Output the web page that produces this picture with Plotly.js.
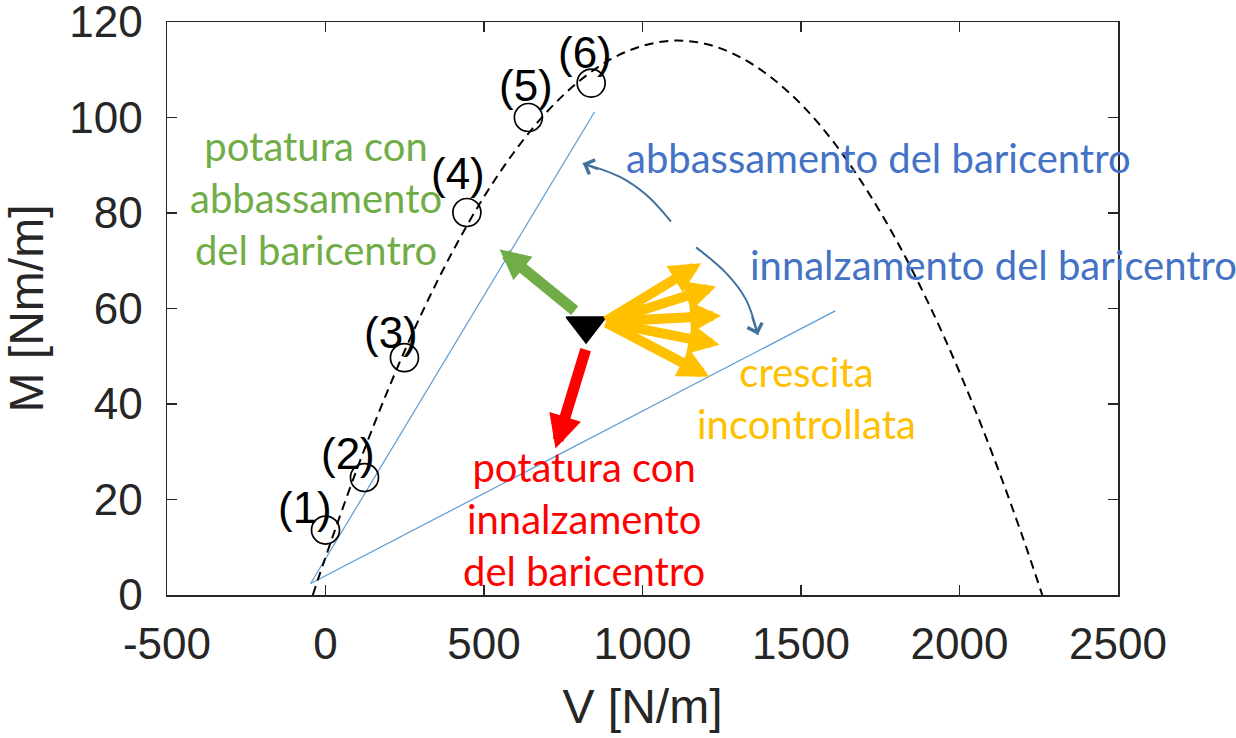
<!DOCTYPE html>
<html><head><meta charset="utf-8">
<script src="https://cdn.plot.ly/plotly-3.0.1.min.js"></script>
<style>html,body{margin:0;padding:0;background:#fff;}#chart{width:1236px;height:738px;}</style>
</head><body><div id="chart"></div>
<script>
// Measured states (1)-(6)
const stateLabels = ['(1)', '(2)', '(3)', '(4)', '(5)', '(6)'];
const stateV = [0, 123, 249, 446, 640, 838];
const stateM = [13.6, 24.6, 49.7, 80.1, 100.0, 107.2];

// Limit curve (dashed)
const limitV = [-40, 0, 100, 200, 300, 400, 500, 600, 700, 800, 900, 1000, 1100, 1200, 1300, 1400, 1500, 1600, 1700, 1800, 1900, 2000, 2100, 2200, 2261];
const limitM = [0, 7.9, 26.5, 43.4, 58.5, 71.8, 83.4, 93.2, 101.3, 107.6, 112.2, 115.0, 116.1, 115.4, 112.9, 108.7, 102.8, 95.1, 85.6, 74.4, 61.4, 46.7, 30.2, 12.0, 0];

// Thin reference lines from the origin
const steepLineV = [-47, 849];
const steepLineM = [2.4, 101.2];
const flatLineV = [-47, 1608];
const flatLineM = [2.4, 59.5];

// Current state (black triangle)
const currentV = [822];
const currentM = [56.4];

// Arrows (tail -> tip)
const greenTail = [791, 59.3];
const greenTip = [549, 72.4];
const redTail = [822, 51.7];
const redTip = [725.6, 30.7];
const growthTail = [880, 57.2];
const growthTipV = [1185, 1232, 1248, 1243, 1211];
const growthTipM = [69.5, 64.6, 58.5, 52.4, 45.7];

// Curved arrows
const arcUpV = [1090, 1011.7, 927.4, 811.8];
const arcUpM = [78.2, 83.8, 87.6, 90.4];
const arcDownV = [1169, 1264, 1327, 1364];
const arcDownM = [72.8, 67.4, 61.8, 54.5];

// Axis ticks
const xTickVals = [-500, 0, 500, 1000, 1500, 2000, 2500];
const xTickText = ['-500', '0', '500', '1000', '1500', '2000', '2500'];
const yTickVals = [0, 20, 40, 60, 80, 100, 120];
const yTickText = ['0', '20', '40', '60', '80', '100', '120'];

// Texts
const txtGreen = 'potatura con<br>abbassamento<br>del baricentro';
const txtRed = 'potatura con<br>innalzamento<br>del baricentro';
const txtYellow = 'crescita<br>incontrollata';
const txtUp = 'abbassamento del baricentro';
const txtDown = 'innalzamento del baricentro';

const AX = '#262626';
const BLUE_THIN = '#5B9BD5';
const ARC = '#41719C';
const GREEN = '#70AD47';
const RED = '#FF0000';
const YELLOW = '#FFC000';
const TXTBLUE = '#4472C4';
const PFONT = 'Lato, "Open Sans", sans-serif';
const AFONT = '"Liberation Sans", Arial, sans-serif';

const traces = [
  {x: steepLineV, y: steepLineM, mode: 'lines', line: {color: BLUE_THIN, width: 1.2}, hoverinfo: 'skip'},
  {x: flatLineV, y: flatLineM, mode: 'lines', line: {color: BLUE_THIN, width: 1.2}, hoverinfo: 'skip'},
  {x: limitV, y: limitM, mode: 'lines', line: {color: '#000', width: 2, dash: '9px,6px', shape: 'spline'}, hoverinfo: 'skip'},
  {x: stateV, y: stateM, mode: 'markers', marker: {symbol: 'circle-open', size: 28, color: '#000', line: {width: 1.7, color: '#000'}}},
  {x: arcUpV, y: arcUpM, mode: 'lines', line: {color: ARC, width: 2, shape: 'spline'}, hoverinfo: 'skip'},
  {x: arcDownV, y: arcDownM, mode: 'lines', line: {color: ARC, width: 2, shape: 'spline'}, hoverinfo: 'skip'},
  {x: currentV, y: currentM, mode: 'markers', marker: {symbol: 'triangle-down', size: 34, color: '#000', line: {width: 2, color: '#000'}}}
];

function arrow(tip, tail, color, width, size, head) {
  return {x: tip[0], y: tip[1], ax: tail[0], ay: tail[1], xref: 'x', yref: 'y', axref: 'x', ayref: 'y',
          text: '', showarrow: true, arrowhead: head, arrowsize: size, arrowwidth: width, arrowcolor: color, standoff: 0};
}

const annotations = [];
annotations.push(arrow(greenTip, greenTail, GREEN, 11, 0.55, 2));
annotations.push(arrow(redTip, redTail, RED, 11, 0.6, 2));
for (let i = 0; i < growthTipV.length; i++) {
  annotations.push(arrow([growthTipV[i], growthTipM[i]], growthTail, YELLOW, 10, 0.62, 2));
}
// open arrowheads at the ends of the curved arrows
annotations.push(arrow([arcUpV[3], arcUpM[3]], [864, 89], ARC, 2, 1.5, 4));
annotations.push(arrow([arcDownV[3], arcDownM[3]], [1344, 58.6], ARC, 2, 1.5, 4));

// point labels
const labelShift = [[-21, 23], [-16, 24], [-13, 25], [-9, 39], [-2, 32], [-6, 31]];
for (let i = 0; i < stateLabels.length; i++) {
  annotations.push({x: stateV[i], y: stateM[i], xref: 'x', yref: 'y', text: stateLabels[i], showarrow: false,
    xshift: labelShift[i][0], yshift: labelShift[i][1], font: {family: AFONT, size: 44, color: '#000'}});
}

function label(txt, x, y, color) {
  return {x: x, y: y, xref: 'x', yref: 'y', text: txt, showarrow: false, align: 'center',
          font: {family: PFONT, size: 40, color: color}};
}
annotations.push(label(txtGreen, -31.5, 83.1, GREEN));
annotations.push(label(txtRed, 815, 15.9, RED));
annotations.push(label(txtYellow, 1516, 41.2, YELLOW));
annotations.push(label(txtUp, 1745, 91.5, TXTBLUE));
annotations.push(label(txtDown, 2107, 69.1, TXTBLUE));

const tickFont = {family: AFONT, size: 44, color: AX};
const layout = {
  width: 1236, height: 738,
  margin: {l: 167, r: 118, t: 22, b: 143, pad: 0},
  paper_bgcolor: '#fff', plot_bgcolor: '#fff',
  showlegend: false,
  xaxis: {range: [-500, 2500], tickmode: 'array', tickvals: xTickVals, ticktext: xTickText,
          ticks: 'inside', ticklen: 10, tickwidth: 1.5, tickcolor: AX,
          showline: true, linecolor: AX, linewidth: 1.5, mirror: 'allticks', showgrid: false, zeroline: false,
          tickfont: tickFont, ticklabelstandoff: 10, ticklabeloverflow: 'allow', automargin: false,
          title: {text: 'V [N/m]', font: {family: AFONT, size: 48, color: AX}, standoff: 22}},
  yaxis: {range: [0, 120], tickmode: 'array', tickvals: yTickVals, ticktext: yTickText,
          ticks: 'inside', ticklen: 10, tickwidth: 1.5, tickcolor: AX,
          showline: true, linecolor: AX, linewidth: 1.5, mirror: 'allticks', showgrid: false, zeroline: false,
          tickfont: tickFont, ticklabelstandoff: 14, ticklabeloverflow: 'allow', automargin: false,
          title: {text: 'M [Nm/m]', font: {family: AFONT, size: 48, color: AX}, standoff: 22}},
  annotations: annotations
};

Plotly.newPlot('chart', traces, layout, {staticPlot: true});
</script>
</body></html>
